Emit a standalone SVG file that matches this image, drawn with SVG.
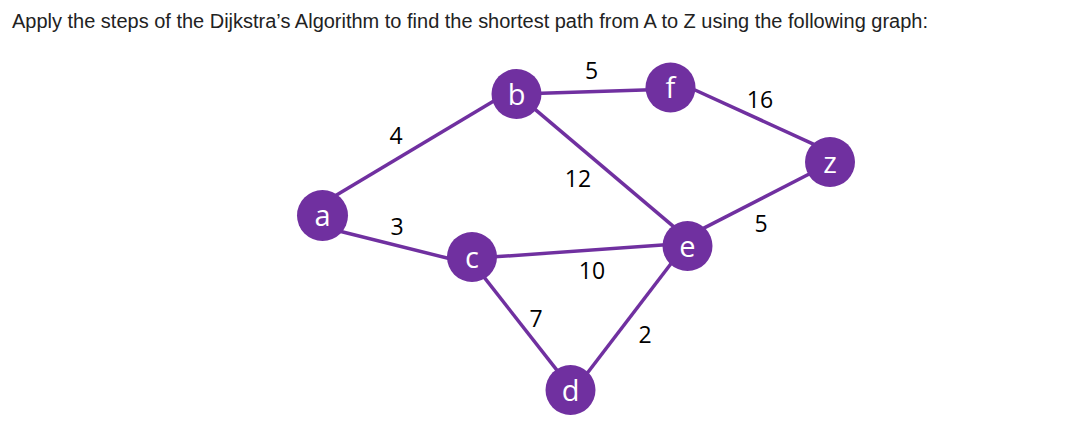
<svg xmlns="http://www.w3.org/2000/svg" width="1066" height="435" viewBox="0 0 1066 435">
<style>
.edge{stroke:#7030A0;stroke-width:3.5;fill:none}
.node circle{fill:#7030A0}
.node text{fill:#fff;font-family:"Open Sans","Noto Sans",sans-serif;font-size:29px;text-anchor:middle}
.w{fill:#000;font-family:"Open Sans","Noto Sans",sans-serif;font-size:23px;text-anchor:middle}
.title{fill:#222;font-family:"Liberation Sans",Arial,sans-serif;font-size:20px}
</style>
<rect width="1066" height="435" fill="#fff"/>
<text class="title" x="12" y="28" textLength="916" lengthAdjust="spacingAndGlyphs">Apply the steps of the Dijkstra’s Algorithm to find the shortest path from A to Z using the following graph:</text>
<g id="connectors">
<line class="edge" x1="334.9" y1="196.1" x2="497.1" y2="98.9"/>
<line class="edge" x1="335.9" y1="230.2" x2="454.1" y2="259.8"/>
<line class="edge" x1="534" y1="93.5" x2="651" y2="89.8"/>
<line class="edge" x1="532.4" y1="107.1" x2="676.3" y2="228.9"/>
<line class="edge" x1="689.5" y1="87.5" x2="817.2" y2="145.8"/>
<line class="edge" x1="701.4" y1="229.4" x2="812.6" y2="172.3"/>
<line class="edge" x1="490.7" y1="257.1" x2="669.3" y2="244.6"/>
<line class="edge" x1="481.3" y1="273.6" x2="560.4" y2="374.7"/>
<line class="edge" x1="584.7" y1="376.5" x2="673.6" y2="260.2"/>
</g>
<g id="weights">
<text class="w" x="396" y="144">4</text>
<text class="w" x="397" y="235">3</text>
<text class="w" x="591.5" y="79">5</text>
<text class="w" x="578" y="186.5">12</text>
<text class="w" x="760" y="108">16</text>
<text class="w" x="761" y="231.5">5</text>
<text class="w" x="592" y="279">10</text>
<text class="w" x="536" y="327">7</text>
<text class="w" x="645" y="342.5">2</text>
</g>
<g id="node-a" class="node"><circle cx="322.5" cy="215.5" r="25.5"/><text x="322.5" y="225.5">a</text></g>
<g id="node-b" class="node"><circle cx="516.5" cy="94" r="25"/><text x="516.5" y="105">b</text></g>
<g id="node-f" class="node"><circle cx="670.5" cy="87.5" r="25"/><text x="670.5" y="98">f</text></g>
<g id="node-z" class="node"><circle cx="830" cy="162" r="25"/><text x="830" y="172.5">z</text></g>
<g id="node-c" class="node"><circle cx="472" cy="257" r="25"/><text x="472" y="267.5">c</text></g>
<g id="node-e" class="node"><circle cx="687.5" cy="246" r="25"/><text x="687.5" y="256.5">e</text></g>
<g id="node-d" class="node"><circle cx="570.5" cy="390" r="25"/><text x="570.5" y="400.5">d</text></g>
</svg>
